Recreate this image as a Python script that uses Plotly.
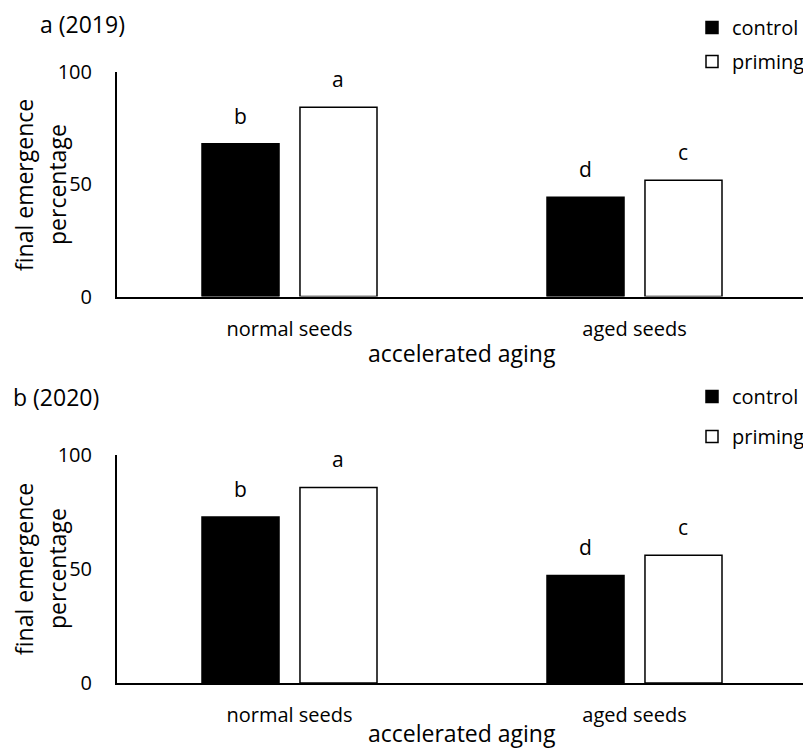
import plotly.graph_objects as go

# ---------------- data ----------------
categories = ["normal seeds", "aged seeds"]
series_names = ["control", "priming"]

control_2019 = [68.0, 44.2]
priming_2019 = [84.3, 51.8]
control_2020 = [72.8, 47.2]
priming_2020 = [85.8, 56.0]

letters_control_2019 = ["b", "d"]
letters_priming_2019 = ["a", "c"]
letters_control_2020 = ["b", "d"]
letters_priming_2020 = ["a", "c"]

y_ticks = [0, 50, 100]
panel_titles = ["a (2019)", "b (2020)"]
x_title = "accelerated aging"
y_title_lines = ["final emergence", "percentage"]

# ---------------- layout helpers ----------------
# the page body has an 8px margin, so the figure is drawn 8px smaller
# and all reference pixel positions are shifted by that amount
OFFS = 8
W, H = 811 - OFFS, 749 - OFFS
ML, MR, MT, MB = 117 - OFFS, 4, 72 - OFFS, 66
PW, PH = W - ML - MR, H - MT - MB
FONT = "Open Sans"
FS_TICK = 20
FS_TEXT = 21
FS_LEG = 20
FS_TITLE = 23


def fx(x):
    return (x - OFFS - ML) / PW


def fy(y):
    return (H - MB - (y - OFFS)) / PH


BARGAP = 0.432
GROUPGAP = 0.214
OFF = (1 - BARGAP) / 4  # centre offset of each bar in a group

fig = go.Figure()

panels = [
    ("x", "y", "legend", control_2019, priming_2019, letters_control_2019, letters_priming_2019),
    ("x2", "y2", "legend2", control_2020, priming_2020, letters_control_2020, letters_priming_2020),
]

for xa, ya, lg, ctrl, prim, lc, lp in panels:
    fig.add_trace(go.Bar(
        x=categories, y=ctrl, name=series_names[0], xaxis=xa, yaxis=ya,
        marker=dict(color="#000000", line=dict(color="#000000", width=1.5)),
        legend=lg, legendgroup=lg + "c",
    ))
    fig.add_trace(go.Bar(
        x=categories, y=prim, name=series_names[1], xaxis=xa, yaxis=ya,
        marker=dict(color="#ffffff", line=dict(color="#000000", width=1.5)),
        legend=lg, legendgroup=lg + "p",
    ))
    for i, cat in enumerate(categories):
        for vals, labs, sgn in ((ctrl, lc, -1), (prim, lp, 1)):
            fig.add_annotation(
                x=i + sgn * OFF, y=vals[i], xref=xa, yref=ya,
                text=labs[i], showarrow=False, yanchor="bottom",
                yshift=12, font=dict(family=FONT, size=FS_TEXT, color="#000"),
            )

axis_common = dict(
    showgrid=False, zeroline=False, showline=True, linecolor="#000",
    linewidth=2, ticks="", tickfont=dict(family=FONT, size=FS_TICK, color="#000"),
)

top_dom = [fy(296.5), 1.0]
bot_dom = [0.0, fy(455)]

fig.update_layout(
    width=W, height=H,
    margin=dict(l=ML, r=MR, t=MT, b=MB, pad=0, autoexpand=False),
    paper_bgcolor="white", plot_bgcolor="white",
    barmode="group", bargap=BARGAP, bargroupgap=GROUPGAP,
    font=dict(family=FONT, size=FS_TEXT, color="#000"),
    xaxis=dict(axis_common, domain=[0, 1], anchor="y", type="category",
               ticklabelstandoff=13),
    yaxis=dict(axis_common, domain=top_dom, anchor="x", range=[0, 100],
               tickvals=y_ticks, ticklabelstandoff=19),
    xaxis2=dict(axis_common, domain=[0, 1], anchor="y2", type="category",
                ticklabelstandoff=13),
    yaxis2=dict(axis_common, domain=bot_dom, anchor="x2", range=[0, 100],
                tickvals=y_ticks, ticklabelstandoff=19),
    legend=dict(x=fx(692), y=fy(8), xanchor="left", yanchor="top",
                font=dict(family=FONT, size=FS_LEG), traceorder="grouped",
                tracegroupgap=5, itemwidth=30, bgcolor="rgba(0,0,0,0)"),
    legend2=dict(x=fx(692), y=fy(377), xanchor="left", yanchor="top",
                 font=dict(family=FONT, size=FS_LEG), traceorder="grouped",
                 tracegroupgap=11, itemwidth=30, bgcolor="rgba(0,0,0,0)"),
    showlegend=True,
)

# panel titles, axis titles
for title, tx, ty in ((panel_titles[0], 38, 24), (panel_titles[1], 11, 397)):
    fig.add_annotation(x=fx(tx), y=fy(ty), xref="paper", yref="paper",
                       text=title, showarrow=False, xanchor="left",
                       yanchor="middle", font=dict(family=FONT, size=FS_TITLE))

for ty in (353, 733):
    fig.add_annotation(x=0.5, y=fy(ty), xref="paper", yref="paper",
                       text=x_title, showarrow=False, xanchor="center",
                       yanchor="middle", font=dict(family=FONT, size=FS_TITLE))

for cy in (185, 569):
    for line, cx in zip(y_title_lines, (24, 57)):
        fig.add_annotation(x=fx(cx), y=fy(cy), xref="paper", yref="paper",
                           text=line, showarrow=False, textangle=-90,
                           xanchor="center", yanchor="middle",
                           font=dict(family=FONT, size=FS_TITLE))

fig.write_html("out.html")
